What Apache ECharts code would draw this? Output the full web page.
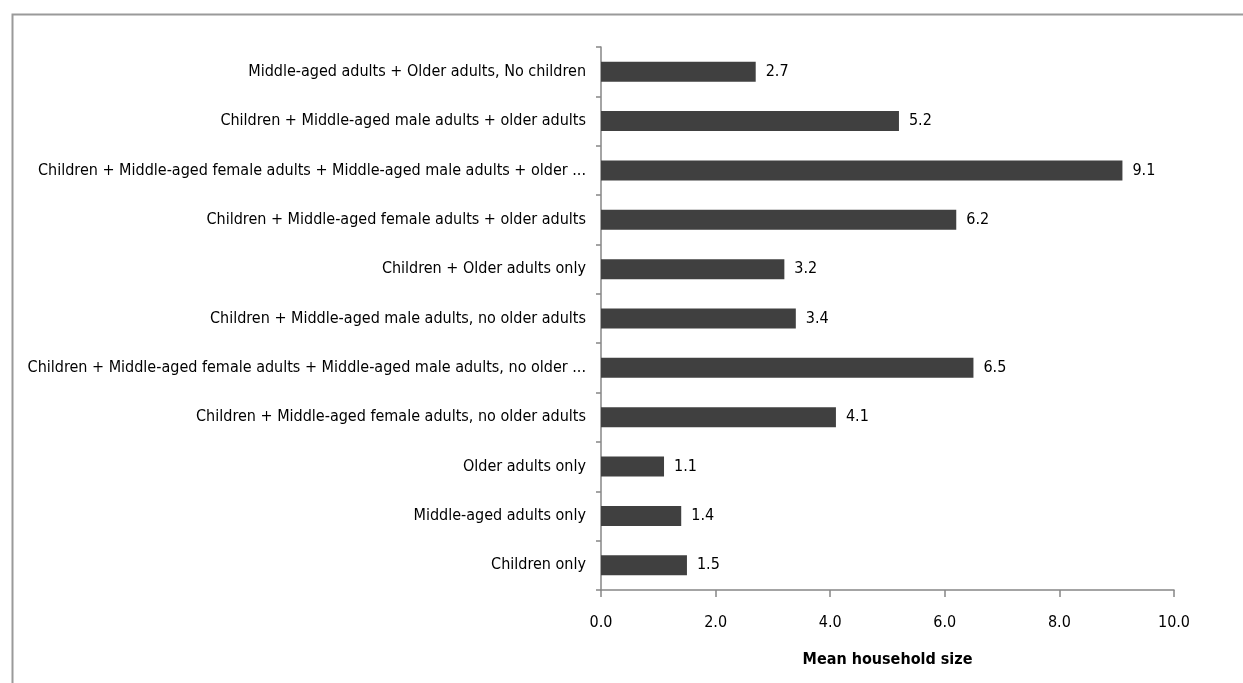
<!DOCTYPE html>
<html>
<head>
<meta charset="utf-8">
<script src="https://cdn.jsdelivr.net/npm/echarts@6/dist/echarts.min.js"></script>
<style>
  html, body { margin: 0; padding: 0; background: #fff; }
  #chart { width: 1243px; height: 683px; }
</style>
</head>
<body>
<div id="chart"></div>
<script>
// Household compositions, listed bottom to top on the category axis
const categories = [
  'Children only',
  'Middle-aged adults only',
  'Older adults only',
  'Children + Middle-aged female adults, no older adults',
  'Children + Middle-aged female adults + Middle-aged male adults, no older ...',
  'Children + Middle-aged male adults, no older adults',
  'Children + Older adults only',
  'Children + Middle-aged female adults + older adults',
  'Children + Middle-aged female adults + Middle-aged male adults + older ...',
  'Children + Middle-aged male adults + older adults',
  'Middle-aged adults + Older adults, No children'
];
const meanSize = [1.5, 1.4, 1.1, 4.1, 6.5, 3.4, 3.2, 6.2, 9.1, 5.2, 2.7];
const xTicks = { min: 0, max: 10, step: 2 };
const xAxisTitle = 'Mean household size';

const FONT = '"DejaVu Sans Condensed", "Liberation Sans Narrow", "Liberation Sans", sans-serif';
const AXIS_GREY = '#868686';

const chart = echarts.init(document.getElementById('chart'), null, { renderer: 'canvas' });
chart.setOption({
  animation: false,
  backgroundColor: '#ffffff',
  textStyle: { fontFamily: FONT },
  graphic: [{
    type: 'rect',
    left: 10, top: 12,
    shape: { width: 1400, height: 800 },
    style: { fill: 'none', stroke: '#9a9a9a', lineWidth: 2 },
    silent: true
  }],
  grid: { left: 601, right: 69, top: 47, bottom: 93, containLabel: false },
  xAxis: {
    type: 'value',
    min: xTicks.min, max: xTicks.max, interval: xTicks.step,
    name: xAxisTitle,
    nameLocation: 'middle',
    nameGap: 62,
    nameTextStyle: { fontFamily: FONT, fontSize: 16, fontWeight: 'bold', color: '#000' },
    axisLine: { show: true, lineStyle: { color: AXIS_GREY, width: 1.5 } },
    axisTick: { show: true, inside: false, length: 7, lineStyle: { color: AXIS_GREY, width: 1.5 } },
    axisLabel: {
      fontFamily: FONT, fontSize: 16, color: '#000', margin: 25,
      formatter: v => v.toFixed(1)
    },
    splitLine: { show: false }
  },
  yAxis: {
    type: 'category',
    data: categories,
    axisLine: { show: true, lineStyle: { color: AXIS_GREY, width: 1.5 } },
    axisTick: { show: true, inside: false, length: 5, alignWithLabel: false, lineStyle: { color: AXIS_GREY, width: 1.5 } },
    axisLabel: { fontFamily: FONT, fontSize: 16, color: '#000', margin: 15 }
  },
  series: [{
    type: 'bar',
    data: meanSize,
    barWidth: 20,
    itemStyle: { color: '#404040' },
    label: {
      show: true,
      position: 'right',
      distance: 10,
      fontFamily: FONT,
      fontSize: 16,
      color: '#000',
      formatter: p => p.value.toFixed(1)
    }
  }]
});
</script>
</body>
</html>
